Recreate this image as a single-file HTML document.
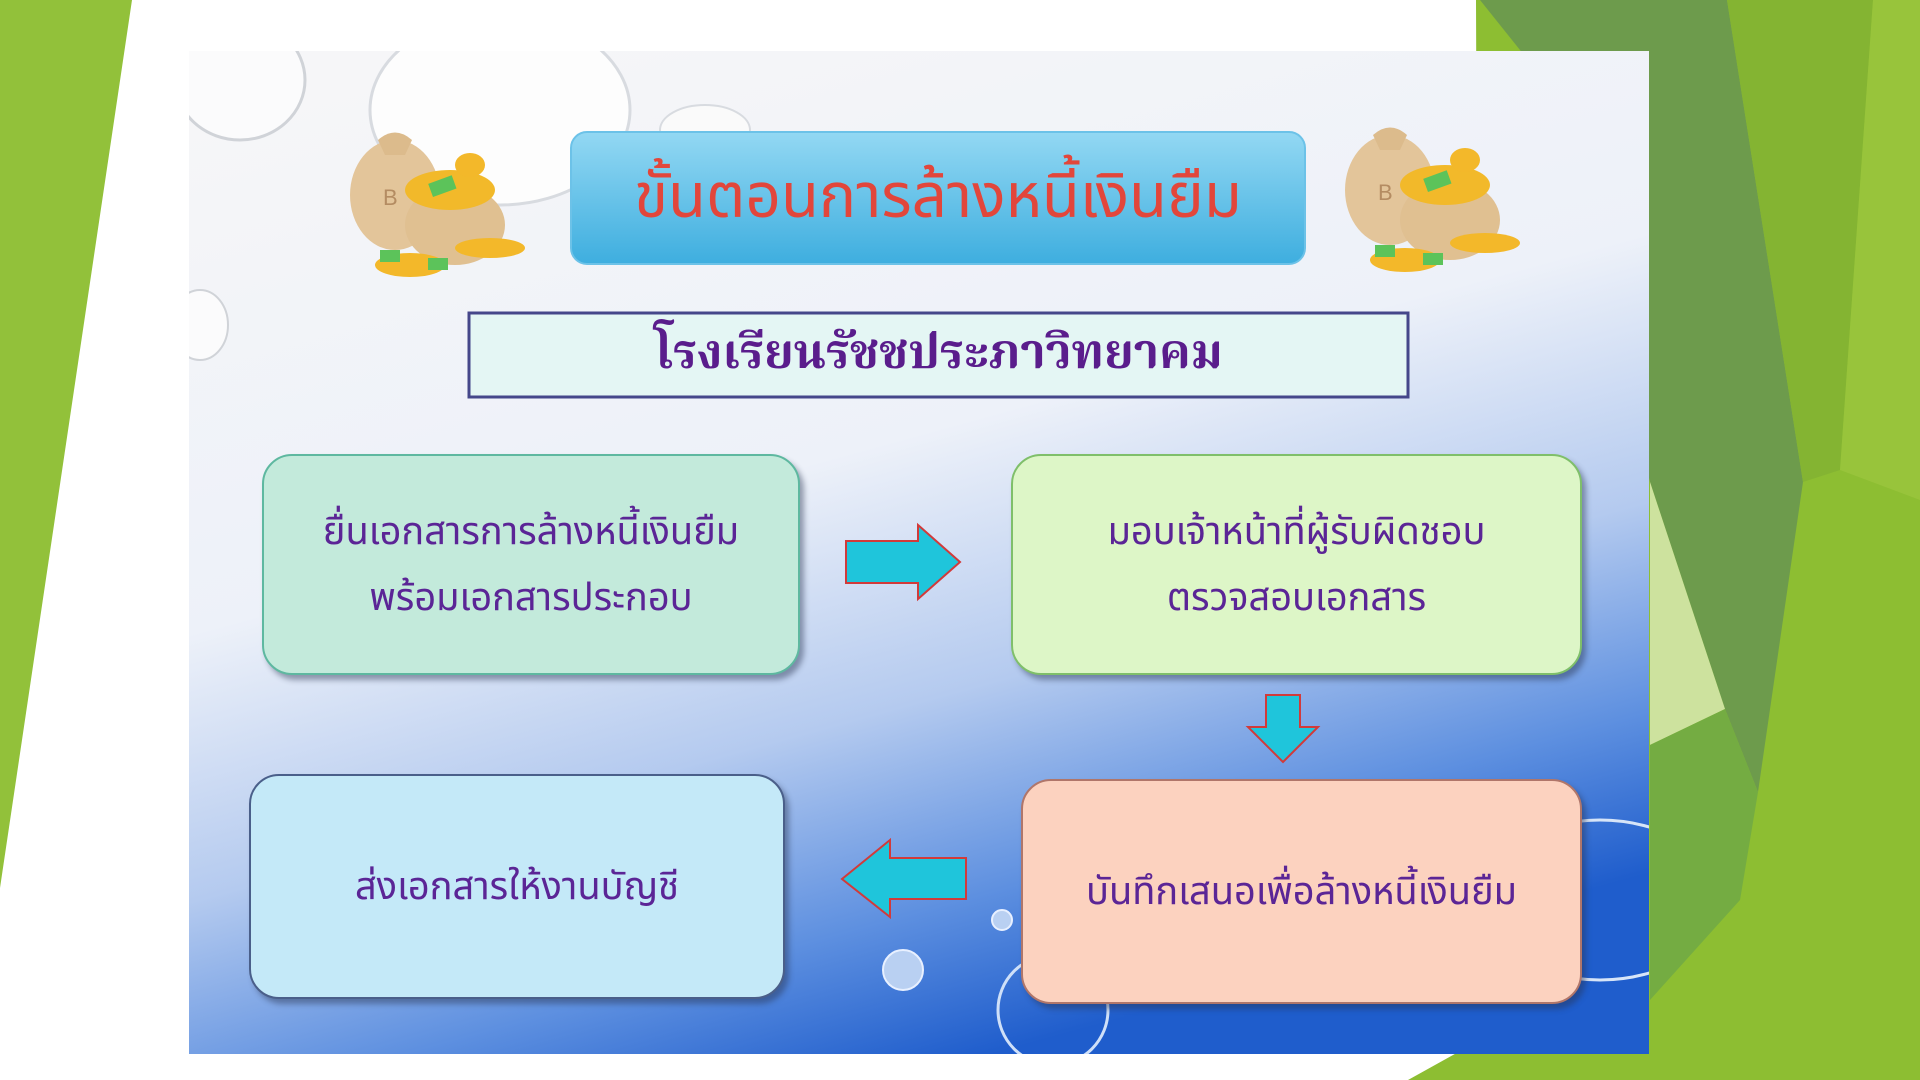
<!DOCTYPE html>
<html><head><meta charset="utf-8"><style>
html,body{margin:0;padding:0;width:1920px;height:1080px;overflow:hidden;background:#fff;position:relative;font-family:"Liberation Sans","Noto Sans Thai","Garuda","Loma","Norasi",sans-serif}
.abs{position:absolute}
.box{position:absolute;border-radius:30px;box-shadow:4px 5px 6px rgba(40,50,80,.45);display:flex;flex-direction:column;align-items:center;justify-content:center;text-align:center;color:#5b2596;font-size:38px;line-height:66px;box-sizing:border-box}
</style></head><body>
<svg class="abs" style="left:0;top:0" width="1920" height="1080">
<defs>
<linearGradient id="bg" x1="0.15" y1="0" x2="0.55" y2="1">
<stop offset="0" stop-color="#f6f6f8"/><stop offset="0.45" stop-color="#edf1f9"/><stop offset="0.68" stop-color="#b4caef"/><stop offset="0.86" stop-color="#5e90e0"/><stop offset="1" stop-color="#1f5dcc"/></linearGradient>
<linearGradient id="tb" x1="0" y1="0" x2="0" y2="1"><stop offset="0" stop-color="#93d8f3"/><stop offset="1" stop-color="#3eaedf"/></linearGradient>
<clipPath id="pc"><rect x="189" y="51" width="1460" height="1003"/></clipPath>
</defs>
<polygon points="0,0 132,0 0,888" fill="#92c13a"/>
<polygon points="1476,0 1920,0 1920,1080 1408,1080 1480,1040" fill="#8dbe32"/>
<polygon points="1480,0 1727,0 1803,482 1758,792 1725,709 1650,482 1560,100" fill="#6d9b4c"/>
<polygon points="1727,0 1873,0 1840,470 1803,482" fill="#84b432"/>
<polygon points="1873,0 1920,0 1920,500 1840,470" fill="#98c43b"/>
<polygon points="1650,482 1725,709 1650,745" fill="#cde29e"/>
<polygon points="1650,745 1725,709 1758,792 1740,900 1650,1000" fill="#74ac42"/>
<rect x="189" y="51" width="1460" height="1003" fill="url(#bg)"/>
<g clip-path="url(#pc)">
<ellipse cx="500" cy="110" rx="130" ry="95" fill="#fdfdfd" stroke="#d8dbe0" stroke-width="3"/>
<ellipse cx="240" cy="80" rx="65" ry="60" fill="#fbfbfc" stroke="#d0d3d8" stroke-width="3"/>
<ellipse cx="200" cy="325" rx="28" ry="35" fill="#fbfbfc" stroke="#d0d3d8" stroke-width="2"/>
<ellipse cx="705" cy="130" rx="45" ry="25" fill="#fafafa" stroke="#d8dbe0" stroke-width="2"/>
<circle cx="1053" cy="1010" r="55" fill="none" stroke="#cfe0f8" stroke-width="3"/>
<circle cx="903" cy="970" r="20" fill="#b9d0f2" stroke="#e8f0ff" stroke-width="2"/>
<circle cx="1002" cy="920" r="10" fill="#b9d0f2" stroke="#e8f0ff" stroke-width="2"/>
<ellipse cx="1600" cy="900" rx="120" ry="80" fill="none" stroke="#d7e5f8" stroke-width="3"/>
</g>
<g id="bag">
<ellipse cx="395" cy="195" rx="45" ry="55" fill="#e3c59a"/>
<path d="M378,140 Q395,125 412,140 L405,155 L385,155 Z" fill="#dcbb8c"/>
<text x="383" y="205" font-size="22" fill="#b48c62" font-family="Liberation Sans">B</text>
<ellipse cx="455" cy="225" rx="50" ry="40" fill="#e0c091"/>
<ellipse cx="450" cy="190" rx="45" ry="20" fill="#f2b92a"/>
<ellipse cx="410" cy="265" rx="35" ry="12" fill="#f3b82a"/>
<ellipse cx="490" cy="248" rx="35" ry="10" fill="#f3b82a"/>
<ellipse cx="470" cy="165" rx="15" ry="12" fill="#f3b82a"/>
<rect x="430" y="180" width="25" height="14" fill="#5cc35a" transform="rotate(-20 440 187)"/>
<rect x="380" y="250" width="20" height="12" fill="#5cc35a"/>
<rect x="428" y="258" width="20" height="12" fill="#5cc35a"/>
</g>
<use href="#bag" transform="translate(995,-5)"/>
<rect x="571" y="132" width="734" height="132" rx="16" fill="url(#tb)" stroke="#6cc2e8" stroke-width="2"/>
<rect x="469" y="313" width="939" height="84" fill="#e4f6f4" stroke="#45478a" stroke-width="3"/>
<polygon points="846,541 918,541 918,525 960,562 918,599 918,583 846,583" fill="#1fc5db" stroke="#d23a3a" stroke-width="2"/>
<polygon points="1266,695 1300,695 1300,727 1318,727 1283,762 1248,727 1266,727" fill="#1fc5db" stroke="#d23a3a" stroke-width="2"/>
<polygon points="966,858 890,858 890,840 842,879 890,917 890,899 966,899" fill="#1fc5db" stroke="#d23a3a" stroke-width="2"/>
</svg>
<div class="abs" style="left:571px;top:132px;width:734px;height:132px;display:flex;align-items:center;justify-content:center;color:#e2463b;font-size:62px">ขั้นตอนการล้างหนี้เงินยืม</div>
<div class="abs" style="left:469px;top:313px;width:939px;height:84px;display:flex;align-items:center;justify-content:center;color:#5a1d8c;font-size:48px;font-weight:bold;font-family:'Liberation Serif','Noto Serif Thai','Norasi',serif">โรงเรียนรัชชประภาวิทยาคม</div>
<div class="box" style="left:262px;top:454px;width:538px;height:221px;background:#c3eadb;border:2px solid #5eb8a0">ยื่นเอกสารการล้างหนี้เงินยืม<br>พร้อมเอกสารประกอบ</div>
<div class="box" style="left:1011px;top:454px;width:571px;height:221px;background:#ddf6c7;border:2px solid #7fbf6a">มอบเจ้าหน้าที่ผู้รับผิดชอบ<br>ตรวจสอบเอกสาร</div>
<div class="box" style="left:1021px;top:779px;width:561px;height:225px;background:#fcd2bf;border:2px solid #b0766a">บันทึกเสนอเพื่อล้างหนี้เงินยืม</div>
<div class="box" style="left:249px;top:774px;width:536px;height:225px;background:#c4e9f8;border:2px solid #4a5f8a">ส่งเอกสารให้งานบัญชี</div>
</body></html>
